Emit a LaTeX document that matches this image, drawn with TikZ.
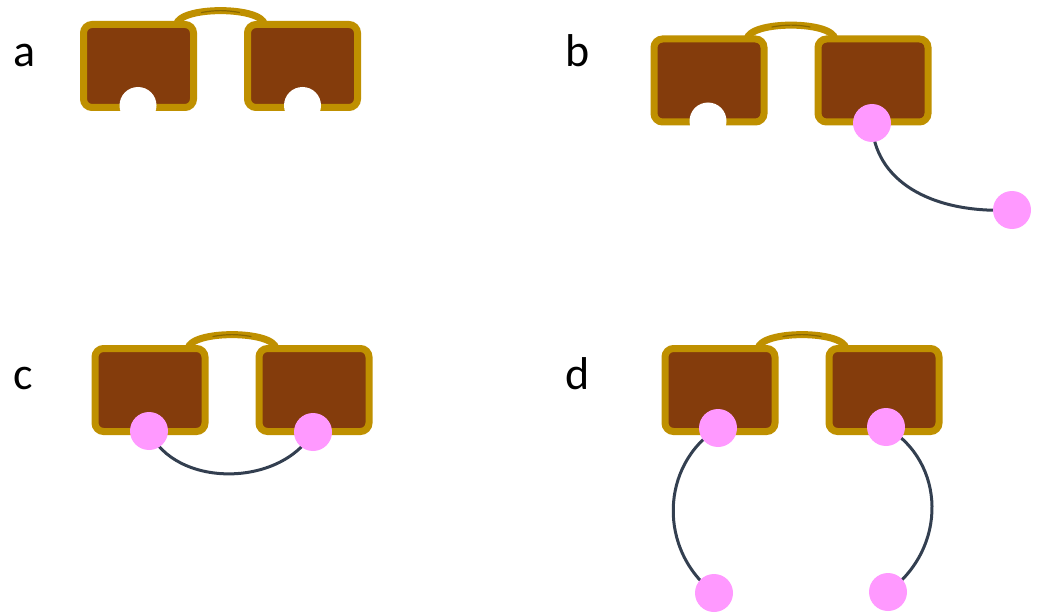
\documentclass[tikz,border=0pt]{standalone}
\usepackage{fontspec}
\setmainfont{Carlito}
\usetikzlibrary{calc,backgrounds}
\definecolor{lensbrown}{HTML}{843C0C}
\definecolor{framegold}{HTML}{BF9000}
\definecolor{beadpink}{HTML}{FF99FF}
\definecolor{wire}{HTML}{333F50}
\tikzset{
  lens/.style={draw=framegold, line width=7pt, fill=lensbrown, rounded corners=8.5pt,
    minimum width=110pt, minimum height=83pt, inner sep=0pt, outer sep=0pt},
  bridge/.style={draw=framegold, line width=7pt},
  bridgeline/.style={draw=framegold!72!black, line width=1.2pt, line cap=round},
  notch/.style={circle, fill=white, minimum size=37pt, inner sep=0pt},
  bead/.style={circle, fill=beadpink, minimum size=38pt, inner sep=0pt},
  tether/.style={draw=wire, line width=3pt},
  panel/.style={font=\fontsize{46}{50}\selectfont, anchor=base west, inner sep=0pt},
}
% a pair of lenses joined by an arched bridge; #1 = name prefix, (#2,#3) = centre of left lens
\newcommand\specs[3]{%
  \node[lens] (#1L) at (#2,#3) {};
  \node[lens] (#1R) at (#2+164,#3) {};
  \path[bridge] ($(#1L.north east)+(-17,0)$)
     .. controls ($(#1L.north east)+(-14,-18.5)$) and ($(#1R.north west)+(14,-18.5)$)
     .. ($(#1R.north west)+(17,0)$);
  \path[bridgeline] ($(#1L.north east)+(8,-12)$)
     .. controls ($(#1L.north east)+(22,-14.5)$) and ($(#1R.north west)+(-22,-14.5)$)
     .. ($(#1R.north west)+(-8,-12)$);
}
\begin{document}
\begin{tikzpicture}[x=1pt,y=-1pt]
\useasboundingbox (0,0) rectangle (1037,615);

% panel labels
\node[panel] (la) at (13,67) {a};
\node[panel] (lb) at (565,67) {b};
\node[panel] (lc) at (13,389) {c};
\node[panel] (ld) at (565,389) {d};

% a: both notches empty
\specs{a}{138.5}{66}
\node[notch] (aN1) at (138,105.5) {};
\node[notch] (aN2) at (302.5,105.5) {};

% b: one bead seated, tethered to a free bead
\specs{b}{709}{80.5}
\node[notch] (bN1) at (708,121) {};
\node[bead] (b1) at (872,123) {};
\node[bead] (b2) at (1012,210) {};

% c: both beads seated, joined underneath
\specs{c}{150}{390}
\node[bead] (c1) at (149,431) {};
\node[bead] (c2) at (313,432) {};

% d: both seated beads tethered to free beads below
\specs{d}{720}{390}
\node[bead] (d1) at (718,428) {};
\node[bead] (d2) at (886,427) {};
\node[bead] (d3) at (714,593) {};
\node[bead] (d4) at (888,592) {};

\begin{pgfonlayer}{background}
  \draw[tether] (b1.center) .. controls (874,180) and (930,214) .. (b2.center);
  \draw[tether] (c1.center) .. controls (175,488) and (280,488) .. (c2.center);
  \draw[tether] (d1.center) .. controls (660,465) and (658,550) .. (d3.center);
  \draw[tether] (d2.center) .. controls (946,462) and (948,548) .. (d4.center);
\end{pgfonlayer}
\end{tikzpicture}
\end{document}
